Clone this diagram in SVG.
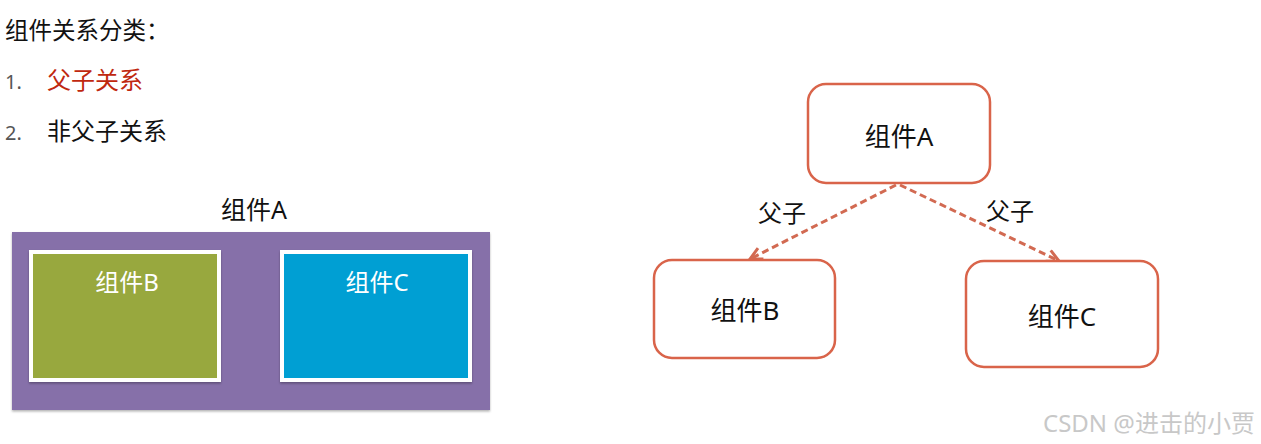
<svg xmlns="http://www.w3.org/2000/svg" width="1261" height="444" viewBox="0 0 1261 444">
<style>
text{font-family:"Noto Sans","Noto Sans CJK SC",sans-serif}
.h{font-size:23.5px;fill:#111}
.it{font-size:24px;fill:#111}
.num{font-size:20px;fill:#555}
.lbl{font-size:25px;fill:#111}
.wl{font-size:24px;fill:#fff;text-anchor:middle}
.nb{fill:#fff;stroke:#d9644a;stroke-width:2.5}
.nt{font-size:26px;fill:#111;text-anchor:middle}
.el{font-size:24px;fill:#111;text-anchor:middle}
.edge{stroke:#d26a52;stroke-width:3;stroke-dasharray:7 4;fill:none}
</style>
<defs>
<marker id="ah" viewBox="0 0 10 10" refX="9" refY="5" markerWidth="5" markerHeight="5" orient="auto" markerUnits="strokeWidth">
<path d="M1 1 L9 5 L1 9" fill="none" stroke="#d26a52" stroke-width="2"/>
</marker>
<filter id="sh" x="-5%" y="-5%" width="110%" height="115%"><feDropShadow dx="0" dy="1.5" stdDeviation="1.2" flood-color="#000" flood-opacity="0.3"/></filter>
</defs>
<rect width="1261" height="444" fill="#fff"/>
<g id="intro">
<text class="h" x="5" y="39">组件关系分类：</text>
<text class="num" x="5" y="89">1.</text>
<text class="it" x="47" y="89" style="fill:#c0280f">父子关系</text>
<text class="num" x="5" y="140">2.</text>
<text class="it" x="47" y="140">非父子关系</text>
</g>
<g id="nest">
<text class="lbl" x="254" y="219" text-anchor="middle">组件A</text>
<rect x="12" y="232" width="478" height="178" fill="#8670a9" filter="url(#sh)"/>
<g id="nestB">
<rect x="29" y="250" width="192" height="132" fill="#fff" filter="url(#sh)"/>
<rect x="33" y="254" width="184" height="124" fill="#98a83e"/>
<text class="wl" x="127" y="291">组件B</text>
</g>
<g id="nestC">
<rect x="280" y="250" width="192" height="132" fill="#fff" filter="url(#sh)"/>
<rect x="284" y="254" width="184" height="124" fill="#009fd3"/>
<text class="wl" x="377" y="291">组件C</text>
</g>
</g>
<g id="connectors">
<line class="edge" x1="896" y1="185" x2="750" y2="259" marker-end="url(#ah)"/>
<line class="edge" x1="900" y1="185" x2="1059" y2="261" marker-end="url(#ah)"/>
<text class="el" x="782" y="222">父子</text>
<text class="el" x="1010" y="220">父子</text>
</g>
<g id="nodeA">
<rect class="nb" x="808" y="84" width="182" height="99" rx="18"/>
<text class="nt" x="899" y="146">组件A</text>
</g>
<g id="nodeB">
<rect class="nb" x="654" y="260" width="181" height="98" rx="18"/>
<text class="nt" x="745" y="320">组件B</text>
</g>
<g id="nodeC">
<rect class="nb" x="966" y="261" width="192" height="106" rx="18"/>
<text class="nt" x="1062" y="326">组件C</text>
</g>
<text x="1043" y="432" style="font-size:24px;fill:#c8c8c8">CSDN @进击的小贾</text>
</svg>
